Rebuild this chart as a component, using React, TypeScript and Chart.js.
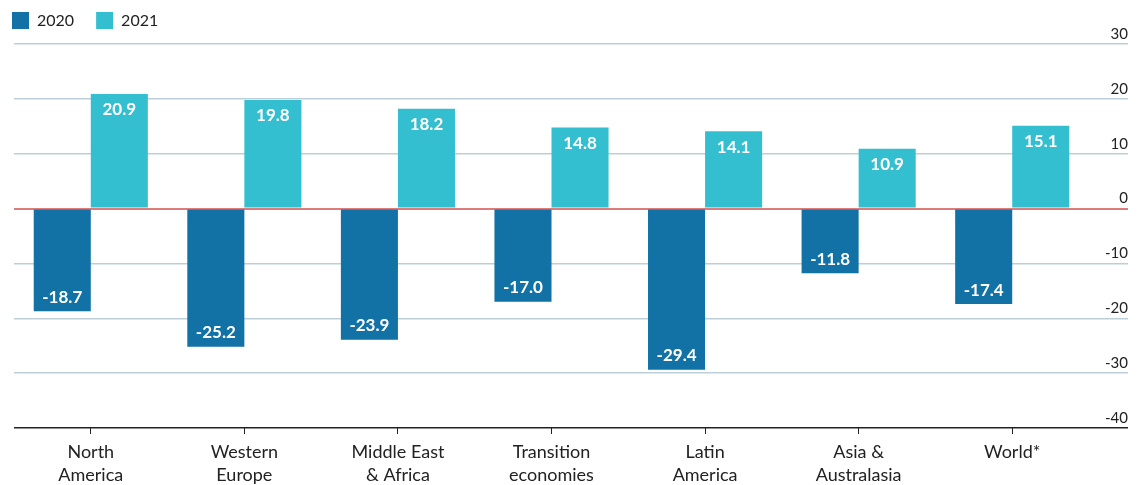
import React, { useEffect, useRef } from "react";
import { Chart, registerables } from "chart.js";

Chart.register(...registerables);

const categories: string[][] = [
  ["North", "America"],
  ["Western", "Europe"],
  ["Middle East", "& Africa"],
  ["Transition", "economies"],
  ["Latin", "America"],
  ["Asia &", "Australasia"],
  ["World*"],
];
const values2020: number[] = [-18.7, -25.2, -23.9, -17.0, -29.4, -11.8, -17.4];
const values2021: number[] = [20.9, 19.8, 18.2, 14.8, 14.1, 10.9, 15.1];
const seriesNames: string[] = ["2020", "2021"];
const yTicks: number[] = [30, 20, 10, 0, -10, -20, -30, -40];

const FONT = "Lato, 'Noto Sans', sans-serif";

const layoutPlugin = {
  id: "layoutFix",
  beforeInit(chart: any) {
    const legend = chart.legend;
    if (legend) {
      const fit = legend.fit;
      legend.fit = function () {
        fit.call(this);
        this.height = 44;
      };
    }
  },
  beforeDraw(chart: any) {
    const legend = chart.legend;
    if (legend) {
      const pad = legend.options.labels.padding;
      legend.left = 12 - pad;
      legend.top = 12 - pad;
    }
  },
};

const yLabelPlugin = {
  id: "yLabels",
  afterDraw(chart: any) {
    const ctx = chart.ctx;
    const y = chart.scales.y;
    ctx.save();
    ctx.font = `15px ${FONT}`;
    ctx.fillStyle = "#222";
    ctx.textAlign = "right";
    ctx.textBaseline = "middle";
    yTicks.forEach((v) => {
      const py = y.getPixelForValue(v);
      ctx.fillText(String(v), y.right, py - 10);
    });
    ctx.restore();
  },
};

const valueLabelPlugin = {
  id: "valueLabels",
  afterDatasetsDraw(chart: any) {
    const ctx = chart.ctx;
    ctx.save();
    ctx.font = `bold 17px ${FONT}`;
    ctx.fillStyle = "#ffffff";
    ctx.textAlign = "center";
    ctx.textBaseline = "middle";
    chart.data.datasets.forEach((ds: any, di: number) => {
      const meta = chart.getDatasetMeta(di);
      meta.data.forEach((bar: any, i: number) => {
        const v = ds.data[i];
        const yPos = v >= 0 ? bar.y + 16 : bar.y - 14;
        ctx.fillText(v.toFixed(1), bar.x, yPos);
      });
    });
    ctx.restore();
  },
};

export default function App() {
  const ref = useRef<HTMLCanvasElement>(null);
  useEffect(() => {
    if (!ref.current) return;
    const chart = new Chart(ref.current, {
      type: "bar",
      data: {
        labels: categories,
        datasets: [
          {
            label: seriesNames[0],
            data: values2020,
            backgroundColor: "#1271a5",
          },
          {
            label: seriesNames[1],
            data: values2021,
            backgroundColor: "#33bfd0",
          },
        ],
      },
      options: {
        responsive: false,
        animation: false,
        maintainAspectRatio: false,
        layout: { padding: { left: 14, right: 17, top: 0, bottom: 0 } },
        datasets: {
          bar: { categoryPercentage: 0.743, barPercentage: 1 },
        },
        plugins: {
          legend: {
            display: true,
            position: "top",
            align: "start",
            labels: {
              boxWidth: 17,
              boxHeight: 17,
              padding: 22,
              color: "#222",
              font: { family: FONT, size: 16 },
            },
          },
          tooltip: { enabled: false },
        },
        scales: {
          x: {
            grid: {
              offset: false,
              drawOnChartArea: false,
              drawTicks: true,
              tickLength: 6,
              color: "#222",
            },
            border: { display: false },
            ticks: {
              color: "#222",
              padding: 7,
              maxRotation: 0,
              autoSkip: false,
              font: { family: FONT, size: 18, lineHeight: 1.28 },
            },
            afterFit(scale: any) {
              scale.height = 57;
            },
          },
          y: {
            position: "right",
            min: -40,
            max: 30,
            ticks: { stepSize: 10, display: false },
            border: { display: false },
            grid: {
              drawTicks: true,
              tickLength: 39,
              color: (c: any) =>
                c.tick && c.tick.value === 0
                  ? "#e07b7b"
                  : c.tick && c.tick.value === -40
                  ? "#222"
                  : "#bccfd9",
              lineWidth: (c: any) => (c.tick && c.tick.value === 0 ? 2 : 1.5),
            },
            afterFit(scale: any) {
              scale.width = 39;
            },
          },
        },
      },
      plugins: [layoutPlugin, yLabelPlugin, valueLabelPlugin],
    } as any);
    return () => chart.destroy();
  }, []);
  return (
    <div style={{ position: "absolute", left: 0, top: 0, width: 1145, height: 485 }}>
      <canvas ref={ref} width={1145} height={485} style={{ display: "block" }} />
    </div>
  );
}
